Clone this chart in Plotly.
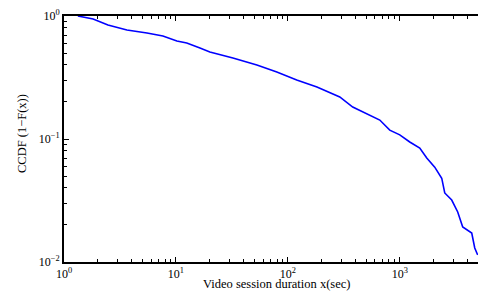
import plotly.graph_objects as go

duration_sec = [1.33, 1.82, 2.47, 3.65, 5.51, 7.65, 10.2, 12.5, 16.4, 20.1, 32.3, 52.9, 79.7,
                120, 182, 237, 291, 380, 507, 663, 814, 1000, 1228, 1509, 1742, 2054, 2371,
                2523, 2912, 3294, 3651, 4396, 4677, 4970]
ccdf = [1.0, 0.945, 0.845, 0.77, 0.727, 0.688, 0.626, 0.603, 0.549, 0.51, 0.456, 0.40, 0.351,
        0.302, 0.265, 0.237, 0.2196, 0.182, 0.16, 0.1426, 0.118, 0.108, 0.0946, 0.0845, 0.070,
        0.059, 0.048, 0.0364, 0.0319, 0.0255, 0.0193, 0.0172, 0.013, 0.0114]

x_major = [1, 10, 100, 1000]
x_major_text = ["10<sup>0</sup>", "10<sup>1</sup>", "10<sup>2</sup>", "10<sup>3</sup>"]
y_major = [0.01, 0.1, 1]
y_major_text = ["10<sup>−2</sup>", "10<sup>−1</sup>", "10<sup>0</sup>"]

x_minor = [m * d for d in [1, 10, 100, 1000] for m in range(2, 10)]
y_minor = [m * d for d in [0.01, 0.1] for m in range(2, 10)]

FONT = "Liberation Serif, Times New Roman, serif"
font = dict(family=FONT, size=12, color="black")

fig = go.Figure()
fig.add_trace(go.Scatter(x=duration_sec, y=ccdf, mode="lines",
                         line=dict(color="#0000ff", width=1.6), showlegend=False,
                         hoverinfo="skip"))

fig.update_layout(
    width=478, height=291,
    margin=dict(l=64, r=0, t=16, b=29, autoexpand=False),
    paper_bgcolor="white", plot_bgcolor="white",
    font=font,
)
fig.update_xaxes(
    type="log", range=[0, 3.699], automargin=False,
    tickvals=x_major, ticktext=x_major_text,
    ticks="inside", ticklen=5, tickwidth=1, tickcolor="black",
    minor=dict(tickvals=x_minor, ticks="inside", ticklen=3, tickcolor="black", showgrid=False),
    showline=True, linecolor="black", linewidth=2, mirror="ticks",
    showgrid=False, zeroline=False,
    tickfont=dict(family=FONT, size=12, color="black"),
)
fig.update_yaxes(
    type="log", range=[-2, 0], automargin=False,
    tickvals=y_major, ticktext=y_major_text,
    ticks="inside", ticklen=5, tickwidth=1, tickcolor="black",
    minor=dict(tickvals=y_minor, ticks="inside", ticklen=3, tickcolor="black", showgrid=False),
    showline=True, linecolor="black", linewidth=2, mirror=False,
    showgrid=False, zeroline=False,
    tickfont=dict(family=FONT, size=12, color="black"),
)
fig.add_annotation(text="Video session duration x(sec)", xref="paper", yref="paper",
                   x=0.5, xshift=5, y=0, yshift=-13, xanchor="center", yanchor="top",
                   showarrow=False, font=dict(family=FONT, size=12.5, color="black"))
fig.add_annotation(text="CCDF (1−F(x))", xref="paper", yref="paper",
                   x=0, xshift=-42, y=0.5, yshift=5, xanchor="center", yanchor="middle",
                   textangle=-90, showarrow=False,
                   font=dict(family=FONT, size=12.5, color="black"))

fig.write_html("out.html", config={"displayModeBar": False},
               post_script="document.body.style.margin='0';document.body.style.overflow='hidden';")
